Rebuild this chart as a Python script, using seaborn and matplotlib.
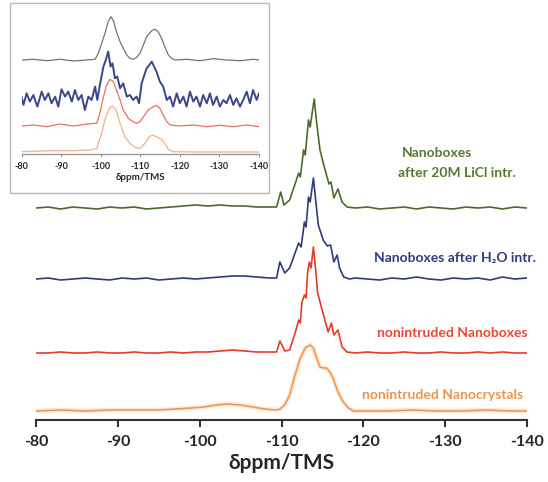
import matplotlib
matplotlib.use("Agg")
import matplotlib.pyplot as plt
import seaborn as sns
from matplotlib.patches import Rectangle

# ---- main panel: 29Si shift (ppm) and intensity above each trace's own baseline ----
base_left = [-80, -81.5, -83, -84.5, -86, -87.5, -89, -90.5, -92, -93.5,
             -95, -96.5, -98, -99.5, -101, -102.5, -104, -105.5, -107, -108.5]
base_right = [-119, -120.5, -122, -123.5, -125, -126.5, -128, -129.5,
              -131, -132.5, -134, -135.5, -137, -138.5, -140]

green_ppm = base_left + [-109.4, -109.9, -110.3, -111.0, -111.7, -112.1, -112.3, -112.7,
                         -112.9, -113.3, -113.5, -114.0, -114.3, -114.7, -115.1, -115.5,
                         -115.8, -116.05, -116.4, -116.9, -117.4, -118.0] + base_right
green_int = [0, 1, -1, 1, 0, -1, 1, 0, 1, -1, 0, 1, 2, 3, 2, 3, 2, 2, 1, 1] + \
            [1, 16, 3, 8, 25, 35, 31, 58, 53, 88, 81, 109, 85, 58, 45, 33, 24, 26, 10, 19, 6, 1] + \
            [0, 1, -1, 0, 1, -1, 1, 0, -1, 1, 0, 1, -1, 1, 0]

blue_ppm = base_left + [-109.4, -109.8, -110.4, -111.0, -111.7, -112.1, -112.4, -112.8,
                        -113.0, -113.3, -113.5, -113.9, -114.2, -114.5, -115.1, -115.6,
                        -116.0, -116.4, -116.8, -117.1, -117.6, -118.3] + base_right
blue_int = [0, 1, -1, 0, 1, 0, -1, 1, 0, 1, -1, 0, 1, 0, 1, 2, 3, 3, 2, 1] + \
           [1, 17, 6, 11, 27, 36, 32, 57, 52, 82, 77, 101, 77, 54, 39, 33, 34, 17, 24, 11, 2, 0] + \
           [1, 0, -1, 1, 0, 2, 0, -1, 1, 0, 1, -1, 2, 0, 1]

red_ppm = base_left + [-109.4, -109.8, -110.4, -111.0, -111.7, -112.1, -112.3, -112.5,
                       -112.8, -113.0, -113.2, -113.4, -113.6, -113.9, -114.2, -114.4,
                       -114.9, -115.3, -115.7, -116.1, -116.4, -116.9, -117.4, -118.0] + base_right
red_int = [0, 0, 1, 0, 0, 1, 0, 0, 1, 0, 0, 1, 0, 1, 1, 2, 3, 2, 1, 1] + \
          [1, 12, 2, 3, 21, 33, 30, 51, 58, 55, 81, 91, 85, 106, 81, 61, 45, 33, 21, 30, 18, 23, 6, 1] + \
          [0, 1, 0, 0, 1, 0, 0, 1, 0, 0, 1, 0, 1, 0, 0]

orange_ppm = [-80, -83, -86, -89, -92, -95, -97, -99, -100.5, -102, -103.5, -105, -106.5,
              -108, -109.4, -109.8, -110.4, -111.0, -111.65, -112.3, -112.9, -113.5, -113.9,
              -114.3, -114.7, -115.1, -115.5, -115.9, -116.3, -116.9, -117.55, -118.2, -118.8,
              -120, -123, -126, -129, -132, -135, -138, -140]
orange_int = [0, 1, 0, 1, 1, 1, 2, 3, 4, 6, 7, 6, 4, 2, 1, 2, 6, 16, 36, 53, 63, 66, 63,
              53, 44, 43, 43, 39, 33, 19, 9, 3, 0, 0, 0, 1, 0, 0, 1, 0, 0]

# ---- inset ----
in_gray_ppm = [-80, -83.0, -86.4, -89.7, -93.1, -96.5, -98.6, -99.4, -100.25, -101.1, -101.9,
               -102.6, -103.2, -104.0, -104.9, -105.7, -106.6, -107.4, -108.2, -109.1, -109.9,
               -110.8, -111.6, -112.9, -113.7, -114.5, -115.4, -116.2, -117.1, -117.9, -118.8,
               -121.7, -125.1, -128.4, -131.8, -135.2, -138.5, -140]
in_gray_int = [0, 0.7, -0.7, 0.7, -1, 0, 0.7, 6.7, 16.7, 26.7, 38.3, 43.3, 39.3, 28.3, 18.3,
               11.7, 5, 1.7, 0.7, 2.7, 6.7, 15, 23.3, 29.3, 30.7, 28.3, 21.7, 13.3, 5, 1.7, 0,
               0.7, -0.7, 1.3, 0, -0.7, 0.7, 0]

in_blue_ppm = [-80, -80.5, -81.3, -82.1, -83.0, -84.0, -85.1, -85.9, -86.8, -87.6, -88.5, -89.3,
               -90.1, -91.0, -91.8, -92.7, -93.5, -94.35, -95.2, -96.0, -96.9, -97.7, -98.6,
               -99.15, -99.8, -100.7, -101.3, -101.9, -102.5, -103.0, -103.6, -104.2, -104.9,
               -105.7, -106.6, -107.4, -108.2, -109.1, -109.7, -110.35, -110.9, -111.6, -112.3,
               -112.9, -113.5, -114.1, -114.95, -115.8, -116.7, -117.5, -118.3, -119.2, -120.0,
               -120.9, -121.7, -122.55, -123.4, -124.2, -125.1, -125.9, -126.8, -127.6, -128.4,
               -129.3, -130.1, -131.0, -131.8, -132.65, -133.5, -134.3, -135.2, -136.0, -136.9,
               -137.7, -138.5, -139.4, -140]
in_blue_int = [1.7, -6.7, 5, -3.3, 3.3, -8.3, 6.7, -1.7, 5, -5, 1.7, -8.3, 9, 1.7, 6.7, -3.3,
               8.3, -1.7, 3.3, -11.7, 1.7, -1.7, 11.7, -1.7, 13.3, 31.7, 38.3, 46.7, 31.7, 35,
               20, 21.7, 10, 15, 1.7, 3.3, -1.7, 1.7, -5, 15, 21.7, 30, 33.3, 36.7, 31.7, 26.7,
               16.7, 11.7, -1.7, 1.7, -8.3, 5, -5, 1.7, -8.3, 6.7, -3.3, 1.7, -8.3, 3.3, -5, 5,
               -6.7, 1.7, -8.3, -1.7, -5, 3.3, -6.7, 0, -8.3, -1.7, 6.7, -5, 8.3, -1.7, 5]

in_red_ppm = [-80, -83.0, -86.4, -89.7, -93.1, -96.5, -99.0, -99.8, -100.7, -101.5, -102.35,
              -103.2, -104.0, -104.9, -105.7, -107.0, -108.2, -109.1, -109.9, -110.8, -112.0,
              -113.3, -114.1, -114.95, -115.8, -116.7, -117.5, -120.0, -123.4, -126.8, -130.1,
              -133.5, -136.9, -140]
in_red_int = [0, 1, -0.7, 2, 0, 2, 2.7, 12.7, 29.3, 41, 46.7, 44.3, 36, 26, 16, 7.7, 4.3, 2.7,
              4.3, 9.3, 16, 19.3, 20.7, 17.7, 11, 4.3, 1, 0, 1, -0.7, 0.7, -0.7, 1, -0.7]

in_orange_ppm = [-80, -87.2, -93.1, -97.3, -99.0, -100.25, -101.3, -102.2, -103.0, -103.9,
                 -104.9, -106.1, -107.4, -108.7, -109.9, -111.2, -112.3, -113.1, -114.1,
                 -115.4, -116.2, -117.1, -118.3, -125.1, -140]
in_orange_int = [0, 1, 1, 1.7, 3.3, 18.3, 35, 43.3, 45.7, 41.7, 28.3, 15, 8.3, 4.3, 3.3, 8.3,
                 15, 16.7, 15, 12.3, 8.3, 2.3, 0, -0.3, -0.3]

tick_vals = [-80, -90, -100, -110, -120, -130, -140]

# ---- layout / style (pixel units of a 548x482 canvas) ----
W, H = 548, 482
main_offsets = {"green": 212, "blue": 141, "red": 67, "orange": 9}
inset_offsets = {"gray": 94, "blue": 55.7, "red": 28, "orange": 2.3}

sns.set_theme(style="white")
plt.rcParams["font.family"] = ["Lato", "DejaVu Sans"]
plt.rcParams["font.weight"] = "bold"
plt.rcParams["axes.unicode_minus"] = False

fig = plt.figure(figsize=(W / 100, H / 100), dpi=100)

ax = fig.add_axes([36 / W, 62 / H, 491 / W, 340 / H])
ax.set_zorder(0)

sns.lineplot(x=orange_ppm, y=[v + main_offsets["orange"] for v in orange_int], ax=ax,
             color="#f7b98a", lw=3.2, alpha=0.35, sort=False, estimator=None)
sns.lineplot(x=orange_ppm, y=[v + main_offsets["orange"] for v in orange_int], ax=ax,
             color="#f0944e", lw=1.1, sort=False, estimator=None)
sns.lineplot(x=red_ppm, y=[v + main_offsets["red"] for v in red_int], ax=ax,
             color="#e8392b", lw=1.2, sort=False, estimator=None)
sns.lineplot(x=blue_ppm, y=[v + main_offsets["blue"] for v in blue_int], ax=ax,
             color="#2f3b7c", lw=1.2, sort=False, estimator=None)
sns.lineplot(x=green_ppm, y=[v + main_offsets["green"] for v in green_int], ax=ax,
             color="#4c6a2c", lw=1.2, sort=False, estimator=None)

ax.set_xlim(-80, -140)
ax.set_ylim(0, 340)
ax.set_xticks(tick_vals)
ax.set_xticklabels([str(t) for t in tick_vals], fontweight="bold", fontsize=11.5)
ax.set_yticks([])
for s in ["top", "left", "right"]:
    ax.spines[s].set_visible(False)
ax.spines["bottom"].set_color("#333333")
ax.spines["bottom"].set_linewidth(1.5)
ax.tick_params(axis="x", direction="out", length=5, width=1.5, color="#333333",
               pad=6, bottom=True)
ax.set_xlabel("δppm/TMS", fontsize=15, fontweight="bold", labelpad=3)
ax.patch.set_alpha(0)


# trace labels
def ftxt(x, y, s, color, ha="center", size=10):
    fig.text(x / W, 1 - y / H, s, color=color, ha=ha, va="center",
             fontsize=size, fontweight="bold")


ftxt(437, 153, "Nanoboxes", "#567a30")
ftxt(457, 173, "after 20M LiCl intr.", "#567a30")
ftxt(455, 258, "Nanoboxes after H₂O intr.", "#2f3c7c")
ftxt(452, 333, "nonintruded Nanoboxes", "#e94836")
ftxt(362, 395, "nonintruded Nanocrystals", "#f0934a", ha="left")

# inset frame
fig.add_artist(Rectangle((10 / W, 1 - 193 / H), 259 / W, 190 / H,
                         transform=fig.transFigure, facecolor="white",
                         edgecolor="#b8b8b8", lw=1.0, zorder=1))

ins = fig.add_axes([21.5 / W, 1 - 154 / H, 237.5 / W, 150 / H])
ins.set_zorder(2)
ins.patch.set_alpha(0)
sns.lineplot(x=in_orange_ppm, y=[v + inset_offsets["orange"] for v in in_orange_int], ax=ins,
             color="#f5b088", lw=0.9, sort=False, estimator=None)
sns.lineplot(x=in_red_ppm, y=[v + inset_offsets["red"] for v in in_red_int], ax=ins,
             color="#ef6f5e", lw=0.9, sort=False, estimator=None)
sns.lineplot(x=in_blue_ppm, y=[v + inset_offsets["blue"] for v in in_blue_int], ax=ins,
             color="#3a4789", lw=1.4, sort=False, estimator=None)
sns.lineplot(x=in_gray_ppm, y=[v + inset_offsets["gray"] for v in in_gray_int], ax=ins,
             color="#6c7a68", lw=0.9, sort=False, estimator=None)
ins.set_xlim(-80, -140)
ins.set_ylim(0, 150)
ins.set_xticks(tick_vals)
ins.set_xticklabels([str(t) for t in tick_vals], fontweight="bold", fontsize=6.5)
ins.set_yticks([])
for s in ["top", "left", "right"]:
    ins.spines[s].set_visible(False)
ins.spines["bottom"].set_color("#9a9a9a")
ins.spines["bottom"].set_linewidth(1.0)
ins.tick_params(axis="x", direction="out", length=2.5, width=0.8, color="#9a9a9a",
                pad=3, bottom=True)
ins.set_xlabel("δppm/TMS", fontsize=7, fontweight="bold", labelpad=2)

fig.savefig("out.png", dpi=100)
